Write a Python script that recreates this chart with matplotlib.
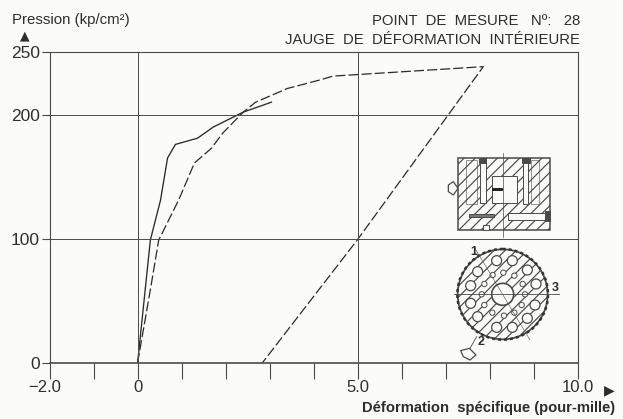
import matplotlib
matplotlib.use('Agg')
import matplotlib.pyplot as plt
from matplotlib.patches import Circle, Rectangle, Polygon
from matplotlib.transforms import ScaledTranslation

plt.rcParams['font.family'] = ['Liberation Sans', 'DejaVu Sans']
plt.rcParams['hatch.linewidth'] = 0.85

ink = '#4a4a4a'
text_ink = '#2e2e2e'
paper = '#fbfbf9'

# readings
solid_x = [0, 0.29, 0.52, 0.68, 0.86, 1.36, 1.72, 2.40, 3.04]
solid_y = [0, 99, 131, 165, 176, 181, 190, 202, 210]
dash_x = [0, 0.29, 0.48, 0.93, 1.29, 1.68, 1.93, 2.40, 2.68, 3.40, 4.15, 4.44, 7.85, 5.0, 2.83]
dash_y = [0, 59, 99, 131, 161, 173, 185, 202, 210, 221, 228, 231, 238.6, 99.6, 0]

x_ticks = [-2, -1, 0, 1, 2, 3, 4, 5, 6, 7, 8, 9, 10]
x_labels = ['−2.0', '', '0', '', '', '', '', '5.0', '', '', '', '', '10.0']
y_ticks = [0, 100, 200, 250]
y_labels = ['0', '100', '200', '250']

# schematic, in units of the 3x crop
big_holes = [(200, 362), (247, 362), (292, 390), (318, 432), (315, 495), (292, 535),
             (247, 562), (200, 562), (143, 530), (122, 490), (122, 437), (143, 395)]
small_holes = [(188, 405), (220, 398), (253, 407), (278, 432), (285, 463), (275, 495),
               (253, 518), (222, 527), (187, 518), (163, 495), (155, 463), (163, 432)]

W, H = 623, 419
fig = plt.figure(figsize=(W / 100, H / 100), dpi=100, facecolor=paper)
ax = fig.add_axes([49.5 / W, 1 - 363 / H, (578 - 49.5) / W, (363 - 52.5) / H], facecolor=paper)

ax.plot(solid_x, solid_y, color='#2a2a2a', lw=0.95)
ax.plot(dash_x, dash_y, color='#2a2a2a', lw=0.9, dashes=(8, 2.5))

ax.axhline(100, color=ink, lw=0.7)
ax.axhline(200, color=ink, lw=0.7)
ax.axvline(0, color=ink, lw=0.7)
ax.axvline(5, color=ink, lw=0.7)

ax.set_xlim(-2, 10)
ax.set_ylim(0, 250)
ax.set_xticks(x_ticks)
ax.set_xticklabels(x_labels, fontsize=12, color=text_ink)
ax.set_yticks(y_ticks)
ax.set_yticklabels(y_labels, fontsize=12.5, color=text_ink)
ax.tick_params(axis='x', length=11.5, width=0.8, color=ink, pad=1)
ax.tick_params(axis='y', length=6, width=0.8, color=ink, pad=1)
for s in ax.spines.values():
    s.set_color(ink)
    s.set_linewidth(0.8)
ax.spines['bottom'].set_linewidth(1.2)

# the -2.0 label sits a little left of its tick
first = ax.get_xticklabels()[0]
first.set_transform(first.get_transform() + ScaledTranslation(-5 / 100, 0, fig.dpi_scale_trans))

fig.text(12 / W, 1 - 20 / H, 'Pression (kp/cm²)', fontsize=10.8, color=text_ink, va='center')
fig.text(25 / W, 1 - 36 / H, '▲', fontsize=9, color=text_ink, ha='center', va='center', family='DejaVu Sans')
fig.text(580 / W, 1 - 21 / H, 'POINT  DE  MESURE   Nº:   28', fontsize=10.7, color=text_ink, ha='right', va='center')
fig.text(580 / W, 1 - 40 / H, 'JAUGE  DE  DÉFORMATION  INTÉRIEURE', fontsize=10.7, color=text_ink, ha='right', va='center')
fig.text(609 / W, 1 - 390 / H, '▶', fontsize=10, color=text_ink, ha='center', va='center', family='DejaVu Sans')
fig.text(615 / W, 1 - 408 / H, 'Déformation  spécifique (pour-mille)', fontsize=10.6, color=text_ink,
         ha='right', va='center', fontweight='bold')

# schematic on a small axes of its own
sk = fig.add_axes([430 / W, 1 - 370 / H, 150 / W, 230 / H])
sk.set_xlim(0, 450)
sk.set_ylim(690, 0)
sk.axis('off')
lw = 0.7
sk.add_patch(Rectangle((85, 55), 275, 215, fc=paper, ec=ink, lw=1.1, hatch='///'))
sk.add_patch(Rectangle((108, 60), 32, 132, fc='none', ec=ink, lw=0.4))
sk.add_patch(Rectangle((302, 60), 25, 132, fc='none', ec=ink, lw=0.4))
sk.add_patch(Rectangle((187, 107), 73, 81, fc=paper, ec=ink, lw=lw))
sk.add_patch(Rectangle((150, 60), 17, 130, fc=paper, ec=ink, lw=lw))
sk.add_patch(Rectangle((278, 60), 17, 133, fc=paper, ec=ink, lw=lw))
sk.add_patch(Rectangle((148, 55), 20, 14, fc=ink, ec=ink, lw=lw))
sk.add_patch(Rectangle((275, 55), 24, 14, fc=ink, ec=ink, lw=lw))
sk.add_patch(Rectangle((235, 218), 115, 22, fc=paper, ec=ink, lw=lw))
sk.add_patch(Rectangle((345, 214), 15, 28, fc=ink, ec=ink, lw=lw))
sk.add_patch(Rectangle((118, 222), 75, 8, fc='#777777', ec=ink, lw=lw))
sk.add_patch(Rectangle((187, 145), 30, 6, fc='#222222', ec='#222222', lw=lw))
sk.add_patch(Rectangle((158, 255), 20, 15, fc=paper, ec=ink, lw=lw))
sk.plot([220, 220], [38, 290], color=ink, lw=0.5)
sk.add_patch(Polygon([(55, 135), (70, 125), (84, 145), (70, 165), (55, 155)], fc=paper, ec=ink, lw=0.9))

sk.add_patch(Circle((218, 463), 135, fc=paper, ec=ink, lw=1.3, hatch='///'))
sk.add_patch(Circle((218, 463), 136, fc='none', ec='#333333', lw=1.8, ls=(0, (1.2, 1.2))))
for c in big_holes:
    sk.add_patch(Circle(c, 15, fc=paper, ec=ink, lw=0.9))
for c in small_holes:
    sk.add_patch(Circle(c, 8, fc=paper, ec=ink, lw=0.7))
sk.add_patch(Circle((218, 463), 33, fc=paper, ec=ink, lw=1.2))
sk.plot([72, 388], [463, 463], color=ink, lw=0.6)
sk.plot([135, 300], [325, 600], color=ink, lw=0.4)
sk.plot([140, 120], [590, 625], color=ink, lw=0.6)
sk.add_patch(Polygon([(92, 632), (118, 625), (138, 645), (120, 660), (100, 650)], fc=paper, ec=ink, lw=0.9))
sk.text(132, 335, '1', fontsize=9, color=text_ink, ha='center', va='center', fontweight='bold')
sk.text(152, 606, '2', fontsize=9, color=text_ink, ha='center', va='center', fontweight='bold')
sk.text(375, 443, '3', fontsize=9, color=text_ink, ha='center', va='center', fontweight='bold')

fig.savefig('out.png', dpi=100, facecolor=paper)
